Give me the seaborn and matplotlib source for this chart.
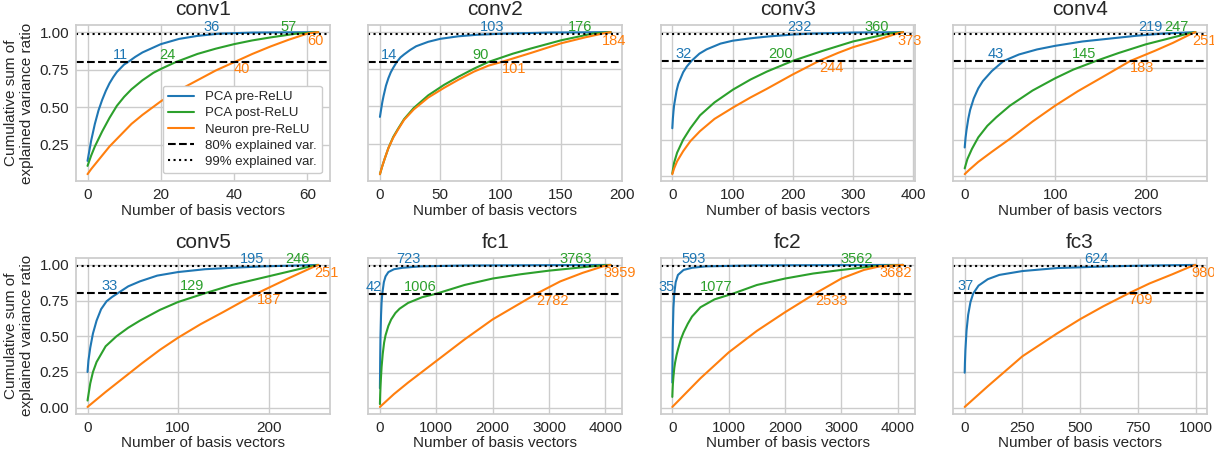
import matplotlib
matplotlib.use("Agg")
import matplotlib.pyplot as plt
import seaborn as sns

# ---------------- data ----------------
LAYERS = ["conv1", "conv2", "conv3", "conv4", "conv5", "fc1", "fc2", "fc3"]
SERIES = ["PCA pre-ReLU", "PCA post-ReLU", "Neuron pre-ReLU"]

conv1_pca_pre = [(0, 0.144), (1, 0.28), (2, 0.39), (3, 0.48), (4, 0.55), (5, 0.61), (6, 0.66), (7, 0.70),
                 (8, 0.735), (9, 0.76), (10, 0.785), (11, 0.80), (13, 0.835), (15, 0.865), (20, 0.92),
                 (25, 0.955), (30, 0.975), (36, 0.99), (45, 0.997), (63, 1.0)]
conv1_pca_post = [(0, 0.111), (1, 0.18), (2, 0.24), (4, 0.34), (6, 0.43), (8, 0.51), (10, 0.57), (12, 0.62),
                  (15, 0.68), (18, 0.73), (20, 0.755), (24, 0.80), (30, 0.855), (35, 0.89), (40, 0.92),
                  (45, 0.945), (50, 0.965), (57, 0.99), (63, 1.0)]
conv1_neuron = [(0, 0.056), (1, 0.09), (2, 0.12), (4, 0.18), (6, 0.24), (8, 0.29), (10, 0.34), (12, 0.39),
                (15, 0.45), (20, 0.54), (25, 0.615), (30, 0.68), (35, 0.745), (40, 0.80), (45, 0.855),
                (50, 0.905), (55, 0.95), (60, 0.99), (63, 1.0)]

conv2_pca_pre = [(0, 0.43), (1, 0.48), (2, 0.53), (3, 0.57), (5, 0.64), (7, 0.69), (9, 0.73), (11, 0.76),
                 (14, 0.80), (17, 0.83), (20, 0.85), (25, 0.88), (30, 0.905), (40, 0.935), (50, 0.955),
                 (65, 0.972), (80, 0.982), (103, 0.99), (140, 0.997), (191, 1.0)]
conv2_pca_post = [(0, 0.045), (2, 0.10), (4, 0.15), (7, 0.22), (11, 0.295), (15, 0.35), (20, 0.415), (28, 0.49),
                  (40, 0.575), (53, 0.645), (65, 0.70), (78, 0.755), (90, 0.80), (110, 0.855), (125, 0.89),
                  (150, 0.945), (176, 0.99), (191, 1.0)]
conv2_neuron = [(0, 0.045), (2, 0.10), (4, 0.15), (7, 0.22), (11, 0.29), (15, 0.345), (20, 0.41), (28, 0.48),
                (40, 0.56), (53, 0.625), (65, 0.68), (78, 0.735), (90, 0.775), (101, 0.80), (125, 0.86),
                (150, 0.925), (170, 0.965), (184, 0.99), (191, 1.0)]

conv3_pca_pre = [(0, 0.33), (1, 0.40), (2, 0.45), (3, 0.49), (5, 0.54), (7, 0.59), (10, 0.64), (14, 0.68),
                 (18, 0.72), (24, 0.76), (32, 0.80), (45, 0.85), (57, 0.88), (80, 0.92), (100, 0.94),
                 (130, 0.957), (160, 0.97), (200, 0.983), (232, 0.99), (300, 0.997), (383, 1.0)]
conv3_pca_post = [(0, 0.015), (3, 0.09), (8, 0.16), (18, 0.25), (30, 0.33), (46, 0.42), (70, 0.51), (101, 0.60),
                  (130, 0.67), (157, 0.725), (200, 0.80), (250, 0.87), (300, 0.935), (360, 0.99), (383, 1.0)]
conv3_neuron = [(0, 0.01), (3, 0.05), (8, 0.10), (18, 0.17), (30, 0.24), (46, 0.31), (70, 0.395), (101, 0.475),
                (130, 0.545), (157, 0.605), (200, 0.705), (244, 0.80), (275, 0.855), (300, 0.895), (340, 0.945),
                (373, 0.99), (383, 1.0)]

conv4_pca_pre = [(0, 0.20), (1, 0.27), (2, 0.32), (4, 0.40), (6, 0.46), (10, 0.54), (15, 0.61), (20, 0.66),
                 (30, 0.73), (43, 0.80), (60, 0.845), (80, 0.88), (100, 0.905), (130, 0.935), (160, 0.955),
                 (190, 0.975), (219, 0.99), (255, 1.0)]
conv4_pca_post = [(0, 0.055), (3, 0.12), (8, 0.19), (15, 0.27), (25, 0.35), (35, 0.41), (50, 0.49), (75, 0.595),
                  (100, 0.68), (120, 0.74), (145, 0.80), (170, 0.855), (200, 0.915), (225, 0.955), (247, 0.99),
                  (255, 1.0)]
conv4_neuron = [(0, 0.015), (5, 0.045), (15, 0.10), (30, 0.17), (50, 0.26), (75, 0.38), (100, 0.49), (125, 0.59),
                (150, 0.68), (183, 0.80), (210, 0.87), (230, 0.925), (251, 0.99), (255, 1.0)]

conv5_pca_pre = [(0, 0.25), (1, 0.33), (3, 0.42), (6, 0.52), (10, 0.61), (15, 0.69), (21, 0.745), (27, 0.775),
                 (33, 0.80), (45, 0.85), (58, 0.885), (77, 0.925), (100, 0.95), (130, 0.97), (160, 0.98),
                 (195, 0.99), (255, 1.0)]
conv5_pca_post = [(0, 0.05), (3, 0.17), (6, 0.25), (10, 0.32), (20, 0.43), (32, 0.50), (45, 0.56), (58, 0.61),
                  (80, 0.685), (100, 0.74), (129, 0.80), (160, 0.86), (200, 0.92), (230, 0.965), (246, 0.99),
                  (255, 1.0)]
conv5_neuron = [(0, 0.005), (20, 0.11), (40, 0.21), (60, 0.31), (80, 0.405), (100, 0.49), (125, 0.585),
                (150, 0.67), (187, 0.80), (220, 0.90), (251, 0.99), (255, 1.0)]

fc1_pca_pre = [(0, 0.14), (5, 0.35), (10, 0.50), (20, 0.65), (30, 0.74), (42, 0.80), (70, 0.88), (100, 0.92),
               (150, 0.95), (250, 0.97), (400, 0.98), (723, 0.99), (1500, 0.996), (4095, 1.0)]
fc1_pca_post = [(0, 0.03), (5, 0.10), (10, 0.15), (18, 0.21), (30, 0.29), (50, 0.38), (75, 0.46), (100, 0.51),
                (150, 0.575), (200, 0.62), (275, 0.665), (350, 0.695), (500, 0.735), (750, 0.775), (1006, 0.80),
                (1500, 0.86), (2000, 0.905), (2500, 0.935), (3000, 0.96), (3763, 0.99), (4095, 1.0)]
fc1_neuron = [(0, 0.01), (250, 0.10), (500, 0.18), (1000, 0.33), (1500, 0.48), (2000, 0.62), (2500, 0.735),
              (2782, 0.80), (3200, 0.885), (3600, 0.945), (3959, 0.99), (4095, 1.0)]

fc2_pca_pre = [(0, 0.18), (5, 0.40), (10, 0.55), (20, 0.70), (35, 0.80), (60, 0.88), (100, 0.93), (200, 0.965),
               (350, 0.98), (593, 0.99), (1500, 0.997), (4095, 1.0)]
fc2_pca_post = [(0, 0.08), (5, 0.13), (10, 0.17), (20, 0.22), (35, 0.28), (50, 0.32), (75, 0.37), (100, 0.41),
                (150, 0.48), (200, 0.53), (275, 0.59), (350, 0.64), (500, 0.705), (750, 0.76), (1077, 0.80),
                (1500, 0.86), (2000, 0.905), (2500, 0.94), (3000, 0.965), (3562, 0.99), (4095, 1.0)]
fc2_neuron = [(0, 0.01), (250, 0.11), (500, 0.21), (1000, 0.39), (1500, 0.54), (2000, 0.67), (2533, 0.80),
              (3000, 0.905), (3400, 0.965), (3682, 0.99), (4095, 1.0)]

fc3_pca_pre = [(0, 0.245), (1, 0.31), (3, 0.40), (8, 0.54), (15, 0.65), (25, 0.74), (37, 0.80), (60, 0.855),
               (100, 0.90), (150, 0.93), (250, 0.957), (400, 0.978), (624, 0.99), (800, 0.996), (999, 1.0)]
fc3_pca_post = None
fc3_neuron = [(0, 0.005), (100, 0.15), (250, 0.36), (400, 0.52), (500, 0.62), (600, 0.71), (709, 0.80),
              (800, 0.87), (900, 0.935), (980, 0.99), (999, 1.0)]

# number of basis vectors needed for 80% / 99% explained variance
# order: PCA pre-ReLU, PCA post-ReLU, Neuron pre-ReLU
n80 = {"conv1": [11, 24, 40], "conv2": [14, 90, 101], "conv3": [32, 200, 244], "conv4": [43, 145, 183],
       "conv5": [33, 129, 187], "fc1": [42, 1006, 2782], "fc2": [35, 1077, 2533], "fc3": [37, None, 709]}
n99 = {"conv1": [36, 57, 60], "conv2": [103, 176, 184], "conv3": [232, 360, 373], "conv4": [219, 247, 251],
       "conv5": [195, 246, 251], "fc1": [723, 3763, 3959], "fc2": [593, 3562, 3682], "fc3": [624, None, 980]}

curves = {
    "conv1": [conv1_pca_pre, conv1_pca_post, conv1_neuron],
    "conv2": [conv2_pca_pre, conv2_pca_post, conv2_neuron],
    "conv3": [conv3_pca_pre, conv3_pca_post, conv3_neuron],
    "conv4": [conv4_pca_pre, conv4_pca_post, conv4_neuron],
    "conv5": [conv5_pca_pre, conv5_pca_post, conv5_neuron],
    "fc1": [fc1_pca_pre, fc1_pca_post, fc1_neuron],
    "fc2": [fc2_pca_pre, fc2_pca_post, fc2_neuron],
    "fc3": [fc3_pca_pre, fc3_pca_post, fc3_neuron],
}

THRESH80 = 0.8
THRESH99 = 0.99

# ---------------- style ----------------
sns.set_theme(style="whitegrid")
plt.rcParams["font.family"] = ["Liberation Sans", "DejaVu Sans"]
colors = ["#1f77b4", "#2ca02c", "#ff7f0e"]

fig, axes = plt.subplots(2, 4, figsize=(12.14, 4.55), dpi=100)
fig.subplots_adjust(left=0.0626, right=0.9942, top=0.945, bottom=0.09, wspace=0.152, hspace=0.49)

for i, layer in enumerate(LAYERS):
    ax = axes.flat[i]
    for s, (name, pts) in enumerate(zip(SERIES, curves[layer])):
        if pts is None:
            continue
        xs = [p[0] for p in pts]
        ys = [p[1] for p in pts]
        sns.lineplot(x=xs, y=ys, ax=ax, color=colors[s], linewidth=1.5, label=name)
    ax.axhline(THRESH80, color="black", linestyle="--", linewidth=1.5, label="80% explained var.")
    ax.axhline(THRESH99, color="black", linestyle=":", linewidth=1.5, label="99% explained var.")

    for s in range(3):
        for thr, table in ((THRESH80, n80), (THRESH99, n99)):
            v = table[layer][s]
            if v is None:
                continue
            if s == 2:
                ax.text(v, thr, str(v), color=colors[s], ha="left", va="top", fontsize=10.5)
            else:
                ax.text(v, thr, str(v), color=colors[s], ha="right", va="bottom", fontsize=10.5)

    ax.set_title(layer, fontsize=15, pad=7)
    ax.set_xlabel("Number of basis vectors", fontsize=11, labelpad=1)
    ax.tick_params(axis="both", labelsize=11, length=0, pad=5)
    ax.set_yticks([0.0, 0.25, 0.5, 0.75, 1.0])
    if i % 4 == 0:
        ax.set_ylabel("Cumulative sum of\nexplained variance ratio", fontsize=11, labelpad=4)
    else:
        ax.set_ylabel("")
        ax.tick_params(axis="y", labelleft=False)
    if i == 0:
        ax.legend(loc="lower right", fontsize=9.5, frameon=True, framealpha=1.0,
                  labelspacing=0.3, borderaxespad=0.6)
    else:
        leg = ax.get_legend()
        if leg is not None:
            leg.remove()

# restore autoscaled y-limits (set_yticks may expand them)
for ax in axes.flat:
    ax.relim()
    ax.autoscale_view()

fig.savefig("out.png", dpi=100)
